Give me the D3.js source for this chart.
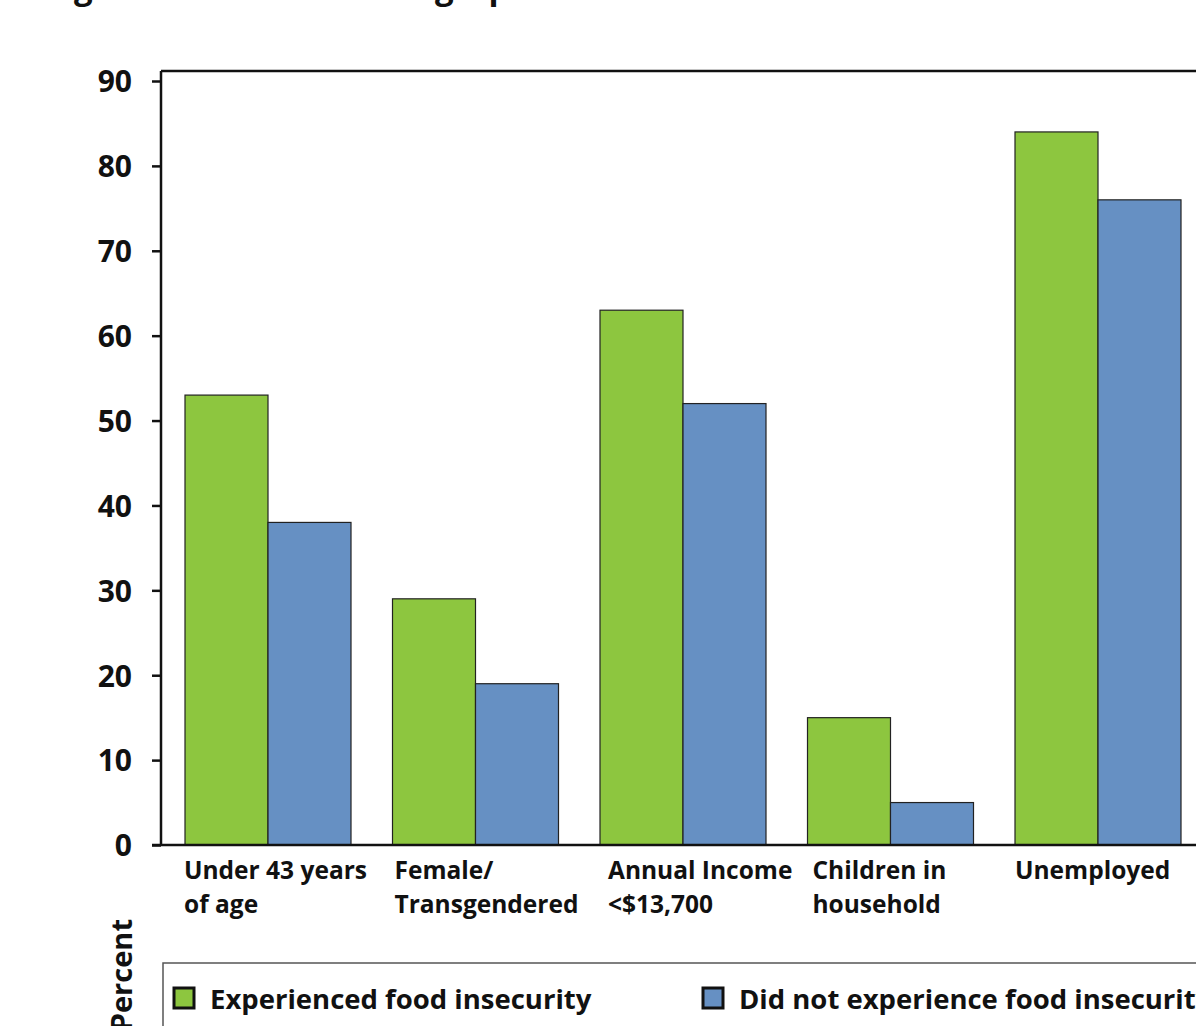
<!DOCTYPE html>
<html>
<head>
<meta charset="utf-8">
<script src="https://cdn.jsdelivr.net/npm/d3@7"></script>
<style>
  html, body { margin: 0; padding: 0; background: #fff; overflow: hidden; }
  svg { display: block; }
  text { font-family: "Open Sans", "Noto Sans", sans-serif; font-weight: 700; fill: #111; }
</style>
</head>
<body>
<svg id="chart" width="1196" height="1026"></svg>
<script>
// Characteristics of respondents, split by food insecurity experience
const categories = ["Under 43 years|of age", "Female/|Transgendered", "Annual Income|<$13,700", "Children in|household", "Unemployed"];
const seriesNames = ["Experienced food insecurity", "Did not experience food insecurity"];
const experienced = [53, 29, 63, 15, 84];
const notExperienced = [38, 19, 52, 5, 76];
const yTicks = [0, 10, 20, 30, 40, 50, 60, 70, 80, 90];
const colors = ["#8DC63F", "#6690C3"];

const svg = d3.select("#chart");

// Title, set high so that only its lower edge shows on the page
const title = svg.append("text")
  .attr("x", 0).attr("y", -1)
  .style("font-size", "33px")
  .text("Figure 3. Selected demographic characteristics related to food insecurity");
// slide the title so the "g" of "Figure" starts near x = 74
const gStart = title.node().getStartPositionOfChar(2).x;
title.attr("x", 74 - gStart);

const x = d3.scaleBand().domain(categories).range([164.25, 1201.75])
  .paddingInner(0.2).paddingOuter(0.1);
const xs = d3.scaleBand().domain(seriesNames).range([0, x.bandwidth()]);
const y = d3.scaleLinear().domain([0, 90]).range([845, 81]);

const plotLeft = 161;
const plotRight = x.range()[1];
const plotTop = y(90) - 10;

// Frame top
svg.append("line")
  .attr("x1", plotLeft).attr("x2", plotRight + 10)
  .attr("y1", plotTop).attr("y2", plotTop)
  .attr("stroke", "#111").attr("stroke-width", 2.5);

// Bars
const rows = categories.map((c, i) => ({ cat: c, vals: [experienced[i], notExperienced[i]] }));
const g = svg.append("g");
rows.forEach(r => {
  r.vals.forEach((v, j) => {
    g.append("rect")
      .attr("x", x(r.cat) + xs(seriesNames[j]))
      .attr("y", y(v))
      .attr("width", xs.bandwidth())
      .attr("height", y(0) - y(v))
      .attr("fill", colors[j])
      .attr("stroke", "#222")
      .attr("stroke-width", 1.2);
  });
});

// Y axis
const yAxis = d3.axisLeft(y).tickValues(yTicks).tickSize(9).tickPadding(20).tickFormat(d3.format("d"));
const ya = svg.append("g").attr("transform", `translate(${plotLeft},0)`).call(yAxis);
ya.select(".domain").attr("d", `M0,${plotTop}V${y(0)}`).attr("stroke", "#111").attr("stroke-width", 2.5);
ya.selectAll(".tick line").attr("stroke", "#111").attr("stroke-width", 2.5);
ya.selectAll(".tick text").style("font-size", "30px").style("font-family", "'Open Sans', sans-serif")
  .style("font-weight", 700).attr("fill", "#111").attr("dy", "0.36em");

// Baseline
svg.append("line")
  .attr("x1", plotLeft - 9).attr("x2", plotRight + 10)
  .attr("y1", y(0)).attr("y2", y(0))
  .attr("stroke", "#111").attr("stroke-width", 2.5);

// Category labels (two lines each)
const labelOffsets = [-1, 2, 8, 5, 0];
categories.forEach((c, i) => {
  const t = svg.append("text")
    .attr("x", x(c) + labelOffsets[i])
    .attr("y", 879)
    .style("font-size", "24.5px");
  c.split("|").forEach((line, k) => {
    t.append("tspan").attr("x", x(c) + labelOffsets[i]).attr("dy", k === 0 ? 0 : 34).text(line);
  });
});

// Y axis title
svg.append("text")
  .attr("transform", "translate(132,919) rotate(-90)")
  .attr("text-anchor", "end")
  .style("font-size", "29px")
  .text("Percent");

// Legend
svg.append("rect")
  .attr("x", 163).attr("y", 963)
  .attr("width", 1100).attr("height", 120)
  .attr("fill", "none").attr("stroke", "#555").attr("stroke-width", 1.5);

const legendX = [174, 703];
seriesNames.forEach((name, j) => {
  svg.append("rect")
    .attr("x", legendX[j]).attr("y", 988)
    .attr("width", 20).attr("height", 20)
    .attr("fill", colors[j]).attr("stroke", "#111").attr("stroke-width", 3);
  svg.append("text")
    .attr("x", legendX[j] + 36).attr("y", 1009)
    .style("font-size", "27.5px")
    .text(name);
});
</script>
</body>
</html>
